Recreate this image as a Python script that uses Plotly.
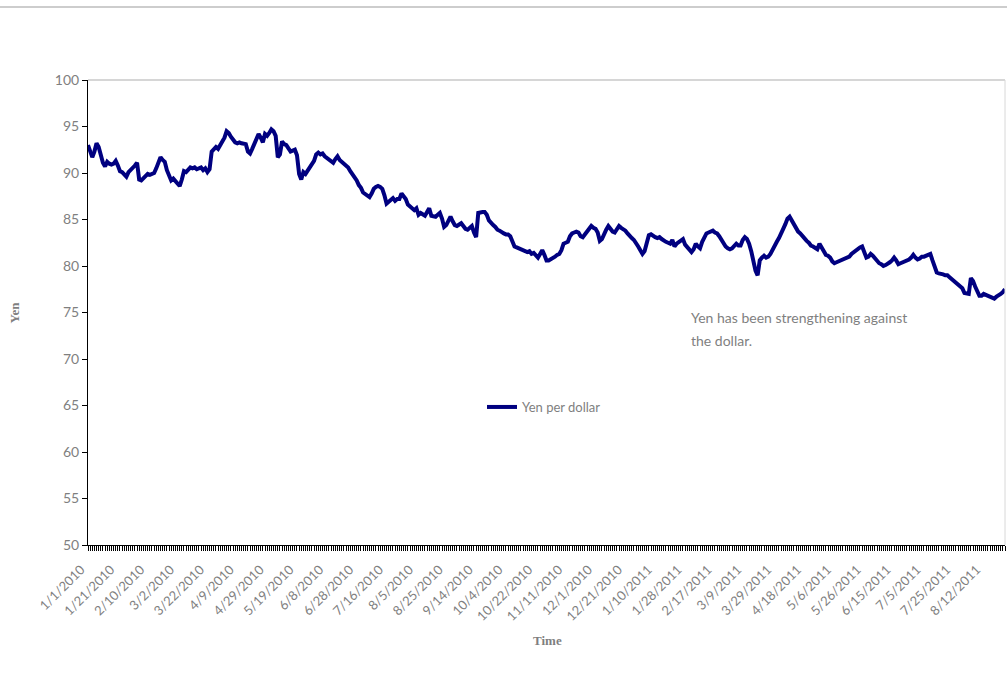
import pandas as pd
import plotly.graph_objects as go

# ---------------- data ----------------
start_date = "2010-01-01"
end_date = "2011-08-26"
dates = pd.bdate_range(start_date, end_date)
categories = [f"{d.month}/{d.day}/{d.year}" for d in dates]

yen_per_dollar = [
    93.0,
    92.4, 91.7, 92.3, 93.2, 92.8,
    92.0, 91.1, 90.7, 91.2, 91.0,
    90.9, 91.0, 91.3, 90.8, 90.2,
    90.1, 89.9, 89.6, 90.1, 90.3,
    90.6, 90.8, 91.1, 89.3, 89.2,
    89.4, 89.6, 89.9, 89.8, 89.9,
    90.0, 90.5, 91.0, 91.7, 91.4,
    91.2, 90.3, 89.8, 89.2, 89.4,
    89.1, 88.9, 88.6, 89.3, 90.2,
    90.1, 90.3, 90.6, 90.5, 90.6,
    90.4, 90.5, 90.6, 90.3, 90.5,
    90.1, 90.4, 92.3, 92.5, 92.8,
    92.6, 93.0, 93.3, 93.8, 94.5,
    94.3, 93.9, 93.5, 93.3, 93.2,
    93.3, 93.2, 93.2, 93.1, 92.3,
    92.1, 92.6, 93.2, 93.7, 94.2,
    93.8, 93.3, 94.2, 94.0, 94.3,
    94.7, 94.5, 94.0, 91.7, 92.0,
    93.4, 93.1, 93.0, 92.7, 92.3,
    92.4, 92.5, 91.9, 89.9, 89.3,
    90.1, 89.9, 90.3, 90.5, 90.9,
    91.3, 92.0, 92.2, 92.0, 92.1,
    91.8, 91.6, 91.4, 91.2, 91.1,
    91.5, 91.8, 91.4, 91.2, 91.1,
    90.9, 90.6, 90.2, 89.9, 89.5,
    89.2, 88.7, 88.4, 87.9, 87.7,
    87.6, 87.4, 87.8, 88.3, 88.5,
    88.6, 88.5, 88.3, 87.6, 86.7,
    86.9, 87.1, 87.3, 87.0, 87.2,
    87.2, 87.8, 87.5, 87.2, 86.6,
    86.4, 86.2, 86.0, 86.2, 85.5,
    85.7, 85.6, 85.4, 85.8, 86.2,
    85.4, 85.3, 85.3, 85.5, 85.7,
    85.1, 84.2, 84.4, 85.0, 85.3,
    84.8, 84.4, 84.3, 84.5, 84.6,
    84.3, 84.0, 83.9, 84.1, 84.3,
    83.6, 83.1, 85.7, 85.8, 85.8,
    85.8, 85.5, 84.9, 84.6, 84.4,
    84.2, 83.9, 83.8, 83.6, 83.5,
    83.4, 83.4, 83.2, 82.6, 82.1,
    82.0, 81.9, 81.8, 81.6, 81.6,
    81.5, 81.6, 81.3, 81.4, 81.2,
    80.9, 81.3, 81.7, 81.2, 80.6,
    80.6, 80.7, 80.9, 81.0, 81.2,
    81.3, 81.7, 82.4, 82.5, 82.6,
    83.2, 83.5, 83.6, 83.7, 83.6,
    83.2, 83.1, 83.4, 83.7, 84.0,
    84.3, 84.1, 84.0, 83.6, 82.7,
    82.9, 83.5, 83.9, 84.3, 83.9,
    83.7, 83.6, 83.9, 84.3, 84.1,
    84.0, 83.8, 83.5, 83.2, 83.0,
    82.8, 82.5, 82.1, 81.7, 81.3,
    81.6, 82.3, 83.3, 83.4, 83.2,
    83.1, 83.0, 83.1, 82.9, 82.7,
    82.6, 82.5, 82.4, 82.8, 82.1,
    82.4, 82.6, 82.7, 82.9, 82.3,
    82.0, 81.7, 81.5, 81.8, 82.4,
    82.1, 81.9, 82.6, 83.2, 83.5,
    83.6, 83.7, 83.8, 83.6, 83.5,
    83.2, 82.8, 82.5, 82.1, 81.9,
    81.8, 81.9, 82.2, 82.4, 82.2,
    82.2, 82.8, 83.1, 82.9, 82.4,
    81.6, 80.4, 79.5, 79.0, 80.6,
    80.9, 81.1, 80.9, 81.0, 81.3,
    81.8, 82.2, 82.6, 83.0, 83.6,
    84.0, 84.5, 85.1, 85.3, 84.9,
    84.6, 84.0, 83.7, 83.5, 83.2,
    82.9, 82.7, 82.5, 82.2, 82.1,
    81.9, 81.8, 82.4, 82.0, 81.5,
    81.2, 81.1, 80.9, 80.5, 80.3,
    80.4, 80.5, 80.7, 80.8, 80.8,
    80.9, 81.0, 81.3, 81.5, 81.6,
    81.8, 82.0, 82.1, 81.5, 80.9,
    81.0, 81.3, 81.1, 80.8, 80.6,
    80.3, 80.2, 80.0, 80.1, 80.2,
    80.4, 80.6, 80.9, 80.6, 80.2,
    80.3, 80.4, 80.4, 80.6, 80.7,
    80.9, 81.2, 80.9, 80.7, 80.8,
    81.0, 81.0, 81.1, 81.2, 81.3,
    80.6, 80.0, 79.3, 79.2, 79.2,
    79.1, 79.0, 79.0, 78.8, 78.6,
    78.4, 78.2, 78.0, 77.9, 77.6,
    77.1, 77.0, 77.0, 78.7, 78.4,
    77.8, 77.2, 76.8, 76.8, 77.0,
    76.9, 76.8, 76.6, 76.6, 76.5,
    76.7, 76.8, 77.0, 77.2, 77.5,
]
assert len(yen_per_dollar) == len(categories), (len(yen_per_dollar), len(categories))

label_step = 14
tick_labels = [c if i % label_step == 0 else "" for i, c in enumerate(categories)]
y_ticks = [50, 55, 60, 65, 70, 75, 80, 85, 90, 95, 100]

series_name = "Yen per dollar"
note_lines = ["Yen has been strengthening against", "the dollar."]

# ---------------- figure ----------------
W, H = 1007, 700
L, R, T, B = 88, 2, 80, 155
PW, PH = W - L - R, H - T - B

def px_x(x):
    return (x - L) / PW

def px_y(y):
    return (H - B - y) / PH

GRAY = "#7f7f7f"
SANS = "Lato, Open Sans, sans-serif"
SERIF = "Liberation Serif, DejaVu Serif, serif"

fig = go.Figure()
fig.add_trace(go.Scatter(
    x=categories, y=yen_per_dollar, mode="lines", name=series_name,
    line=dict(color="#000080", width=4), showlegend=True,
))

fig.update_layout(
    width=W, height=H,
    margin=dict(l=L, r=R, t=T, b=B, pad=0),
    paper_bgcolor="white", plot_bgcolor="white",
    font=dict(family=SANS, color=GRAY, size=13),
    legend=dict(x=px_x(482), y=px_y(407), xanchor="left", yanchor="middle",
                bgcolor="rgba(0,0,0,0)", font=dict(family=SANS, size=13, color=GRAY),
                itemwidth=30),
    xaxis=dict(
        type="category", range=[0, len(categories) - 1],
        tickmode="array", tickvals=categories, ticktext=tick_labels,
        tickangle=-45, ticks="outside", ticklen=5, tickwidth=1, tickcolor="#000000",
        ticklabelshift=-7, ticklabelstandoff=6,
        showline=True, linecolor="#000000", linewidth=1,
        showgrid=False, zeroline=False,
        tickfont=dict(family=SANS, size=13, color=GRAY),
    ),
    yaxis=dict(
        range=[50, 100], tickmode="array", tickvals=y_ticks,
        ticks="outside", ticklen=5, tickwidth=1, tickcolor="#000000",
        showline=True, linecolor="#000000", linewidth=1,
        showgrid=False, zeroline=False,
        tickfont=dict(family=SANS, size=14, color=GRAY),
    ),
    shapes=[
        dict(type="line", xref="paper", yref="paper", x0=0, x1=1, y0=1, y1=1,
             line=dict(color="#c8c8c8", width=1.5)),
        dict(type="line", xref="paper", yref="paper", x0=1, x1=1, y0=0, y1=1,
             line=dict(color="#d8d8d8", width=1)),
        dict(type="line", xref="paper", yref="paper", x0=px_x(0), x1=px_x(W), y0=px_y(7), y1=px_y(7),
             line=dict(color="#bdbdbd", width=1.5)),
    ],
    annotations=[
        dict(text="<b>Yen</b>", x=px_x(14), y=0.5, xref="paper", yref="paper",
             xanchor="center", yanchor="middle",
             textangle=-90, showarrow=False, font=dict(family=SERIF, size=13, color=GRAY)),
        dict(text="<b>Time</b>", x=px_x(547), y=px_y(640), xref="paper", yref="paper",
             xanchor="center", yanchor="middle",
             showarrow=False, font=dict(family=SERIF, size=13, color=GRAY)),
        dict(text=note_lines[0], x=px_x(689), y=px_y(317), xref="paper", yref="paper",
             xanchor="left", yanchor="middle", showarrow=False,
             font=dict(family=SANS, size=14, color=GRAY)),
        dict(text=note_lines[1], x=px_x(689), y=px_y(340), xref="paper", yref="paper",
             xanchor="left", yanchor="middle", showarrow=False,
             font=dict(family=SANS, size=14, color=GRAY)),
    ],
)

fig.write_html("out.html")
